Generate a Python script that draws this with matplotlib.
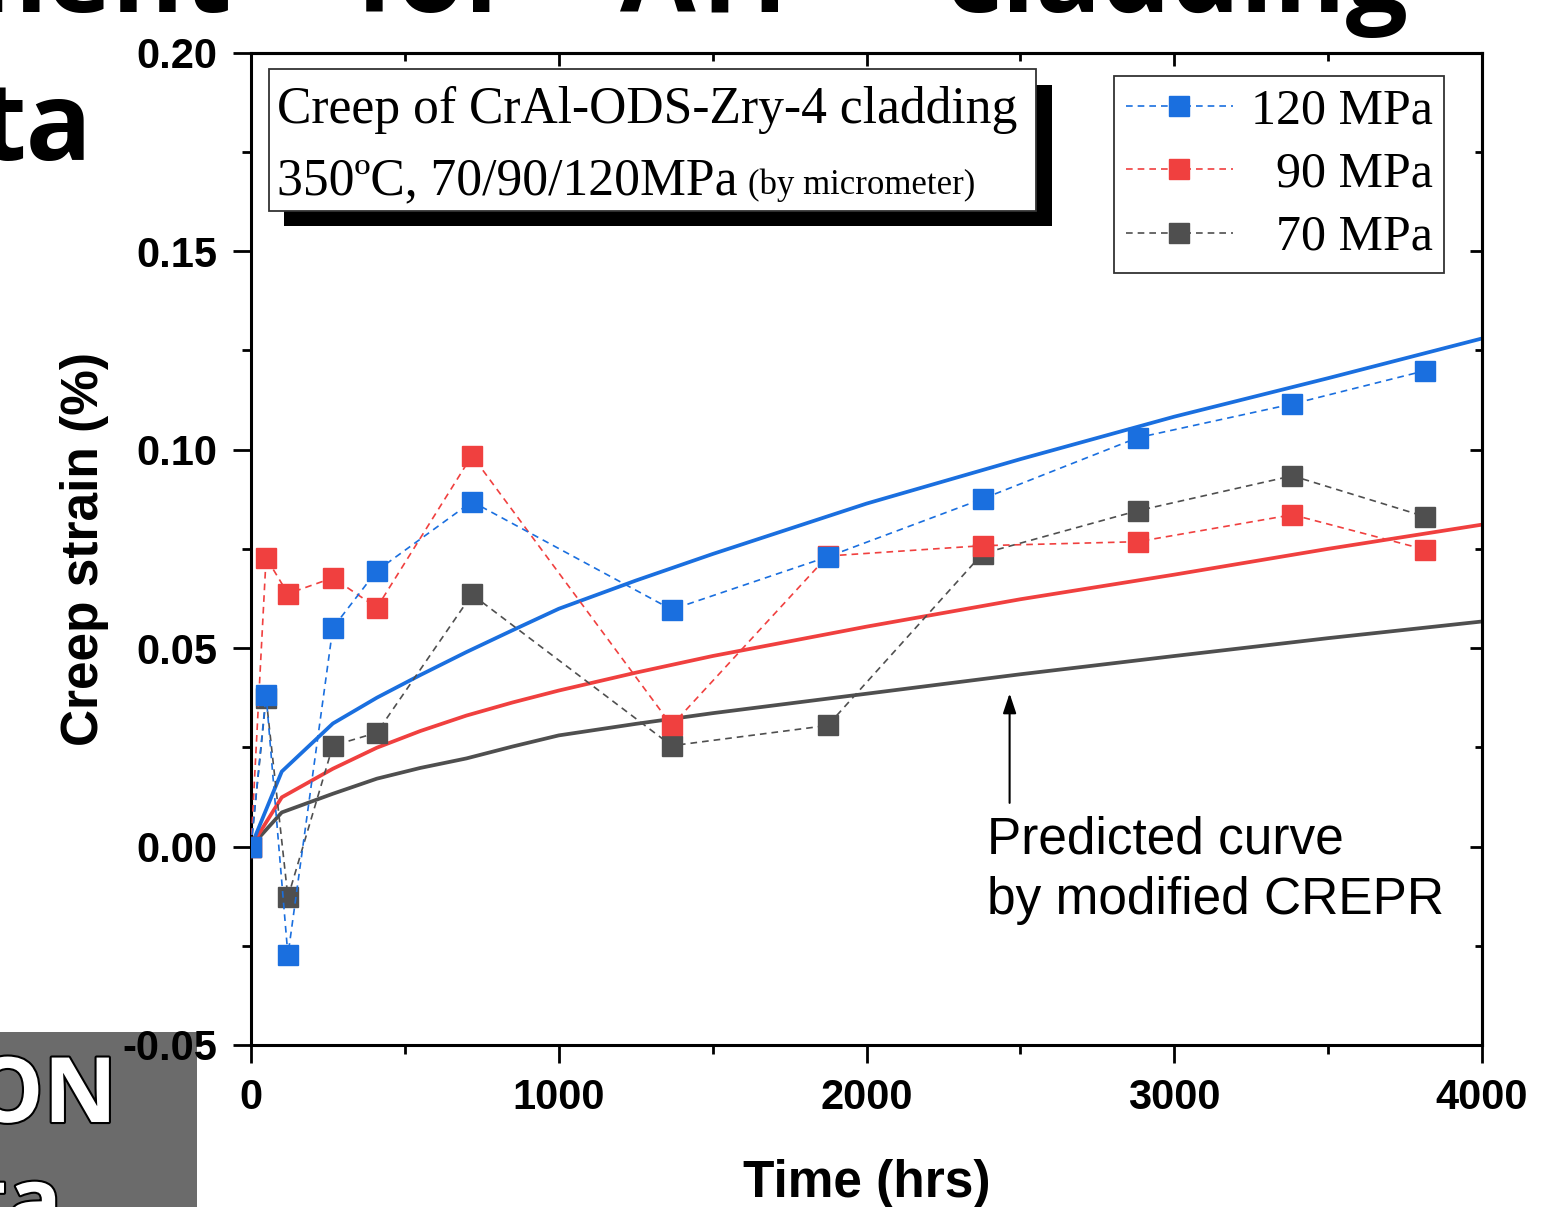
import numpy as np
import matplotlib
matplotlib.use("Agg")
import matplotlib.pyplot as plt
from matplotlib.patches import Rectangle
from matplotlib.ticker import MultipleLocator, FormatStrFormatter
import matplotlib.patheffects as pe

# measured creep strain (%) vs time (hrs)
t_meas = [0, 49, 120, 266, 409, 718, 1367, 1874, 2377, 2881, 3384, 3816]
eps_120 = [0.0, 0.0383, -0.0274, 0.0551, 0.0695, 0.0869, 0.0597, 0.0730, 0.0876, 0.1030, 0.1115, 0.1199]
eps_90 = [0.0, 0.0728, 0.0637, 0.0677, 0.0602, 0.0985, 0.0305, 0.0732, 0.0758, 0.0768, 0.0836, 0.0748]
eps_70 = [0.0, 0.0375, -0.0128, 0.0254, 0.0287, 0.0635, 0.0254, 0.0305, 0.0738, 0.0846, 0.0934, 0.0831]

# predicted curves (modified CREPR)
t_pred = [0, 100, 266, 409, 550, 700, 850, 1000, 1250, 1500, 2000, 2500, 3000, 3500, 4000]
pred_120 = [0.0, 0.0189, 0.0310, 0.0375, 0.0432, 0.0490, 0.0545, 0.0599, 0.0670, 0.0737, 0.0864, 0.0976, 0.1083, 0.1180, 0.1280]
pred_90 = [0.0, 0.0124, 0.0196, 0.0249, 0.0291, 0.0330, 0.0363, 0.0393, 0.0438, 0.0480, 0.0554, 0.0623, 0.0685, 0.0750, 0.0811]
pred_70 = [0.0, 0.0086, 0.0133, 0.0171, 0.0198, 0.0222, 0.0252, 0.0280, 0.0309, 0.0336, 0.0385, 0.0434, 0.0480, 0.0525, 0.0567]

labels = ["120 MPa", "  90 MPa", "  70 MPa"]
colors = ["#1a6fdf", "#f0403f", "#4f4f4f"]

W, H = 1552, 1207
fig = plt.figure(figsize=(W / 100, H / 100), dpi=100)

def fx(px):
    return px / W

def fy(py):
    return 1 - py / H

# slide leftovers behind the chart
bold_sans = dict(family="Open Sans", weight="bold", color="black")
fig.text(fx(232), fy(12), "ment", ha="right", va="baseline", fontsize=79, **bold_sans)
fig.text(fx(355), fy(12), "for", ha="left", va="baseline", fontsize=79, **bold_sans)
fig.text(fx(620), fy(12), "ATF", ha="left", va="baseline", fontsize=79, **bold_sans)
fig.text(fx(945), fy(12), "cladding", ha="left", va="baseline", fontsize=79, **bold_sans)
fig.text(fx(92), fy(160), "ta", ha="right", va="baseline", fontsize=79, **bold_sans)

fig.patches.append(Rectangle((0, 0), fx(197), fy(1032), transform=fig.transFigure,
                             facecolor="#6b6b6b", edgecolor="none", zorder=-5))
stroke = [pe.withStroke(linewidth=3, foreground="black")]
fig.text(fx(117), fy(1122), "ON", ha="right", va="baseline", fontsize=65, family="Open Sans",
         weight="bold", color="white", path_effects=stroke, zorder=-4)
fig.text(fx(62), fy(1232), "ta", ha="right", va="baseline", fontsize=65, family="Open Sans",
         weight="bold", color="white", path_effects=stroke, zorder=-4)

ax = fig.add_axes([fx(251), fy(1045), fx(1482) - fx(251), fy(52.7) - fy(1045)])
ax.patch.set_alpha(0)

series = [(eps_70, pred_70, 2), (eps_90, pred_90, 1), (eps_120, pred_120, 0)]
handles = {}
for eps, pred, i in series:
    ax.plot(t_pred, pred, color=colors[i], lw=2.7, zorder=2)
    h, = ax.plot(t_meas, eps, color=colors[i], ls=(0, (4, 3)), lw=1.2, marker="s",
                 markersize=14, markerfacecolor=colors[i], markeredgecolor=colors[i],
                 zorder=3 + (2 - i), label=labels[i])
    handles[i] = h

ax.set_xlim(0, 4000)
ax.set_ylim(-0.05, 0.20)
ax.xaxis.set_major_locator(MultipleLocator(1000))
ax.xaxis.set_minor_locator(MultipleLocator(500))
ax.yaxis.set_major_locator(MultipleLocator(0.05))
ax.yaxis.set_minor_locator(MultipleLocator(0.025))
ax.yaxis.set_major_formatter(FormatStrFormatter("%.2f"))

for s in ax.spines.values():
    s.set_linewidth(2.2)

ax.tick_params(which="major", direction="out", length=13, width=2.0, pad=11)
ax.tick_params(which="minor", direction="out", length=6.5, width=2.0)
for lab in ax.get_xticklabels() + ax.get_yticklabels():
    lab.set_family("Liberation Sans")
    lab.set_weight("bold")
    lab.set_fontsize(30)

secx = ax.secondary_xaxis("top")
secx.xaxis.set_major_locator(MultipleLocator(1000))
secx.xaxis.set_minor_locator(MultipleLocator(500))
secx.tick_params(which="major", direction="in", length=9, width=2.0, labeltop=False)
secx.tick_params(which="minor", direction="in", length=6, width=2.0)
secx.spines["top"].set_linewidth(2.2)
secy = ax.secondary_yaxis("right")
secy.yaxis.set_major_locator(MultipleLocator(0.05))
secy.yaxis.set_minor_locator(MultipleLocator(0.025))
secy.tick_params(which="major", direction="in", length=9, width=2.0, labelright=False)
secy.tick_params(which="minor", direction="in", length=5, width=2.0)
secy.spines["right"].set_linewidth(2.2)

ax.set_xlabel("Time (hrs)", fontsize=37, family="Liberation Sans", weight="bold", labelpad=29)
ax.set_ylabel("Creep strain (%)", fontsize=37, family="Liberation Sans", weight="bold", labelpad=10)

leg = ax.legend(handles=[handles[0], handles[1], handles[2]], loc="upper right",
                bbox_to_anchor=(fx(1444), fy(76)), bbox_transform=fig.transFigure,
                borderaxespad=0, prop=dict(family="Liberation Serif", size=36),
                frameon=True, fancybox=False, edgecolor="#333333", framealpha=1,
                handlelength=2.15, handletextpad=0.35, labelspacing=0.34, borderpad=0.23)
leg.get_frame().set_linewidth(1.3)
leg.set_zorder(9)

# titled box with drop shadow
ax.add_patch(Rectangle((fx(284), fy(226)), fx(1052) - fx(284), fy(85) - fy(226),
                       transform=fig.transFigure, facecolor="black", edgecolor="none",
                       zorder=6, clip_on=False))
ax.add_patch(Rectangle((fx(269), fy(211)), fx(1036) - fx(269), fy(69) - fy(211),
                       transform=fig.transFigure, facecolor="white", edgecolor="#333333",
                       lw=1.3, zorder=7, clip_on=False))
serif = dict(family="Liberation Serif", color="black", zorder=8)
ax.text(fx(277), fy(123), "Creep of CrAl-ODS-Zry-4 cladding", transform=fig.transFigure,
        fontsize=37.2, ha="left", va="baseline", **serif)
ax.text(fx(277), fy(194), "350ºC, 70/90/120MPa", transform=fig.transFigure,
        fontsize=37.2, ha="left", va="baseline", **serif)
ax.text(fx(748), fy(194), "(by micrometer)", transform=fig.transFigure,
        fontsize=25, ha="left", va="baseline", **serif)

ax.annotate("", xy=(2465, 0.0393), xytext=(2465, 0.0103),
            arrowprops=dict(arrowstyle="-|>,head_length=1.2,head_width=0.4", color="black", lw=1.5))
ax.text(2393, 0.0078, "Predicted curve\nby modified CREPR", fontsize=37,
        family="Liberation Sans", ha="left", va="top", linespacing=1.3)

fig.savefig("out.png", dpi=100)
